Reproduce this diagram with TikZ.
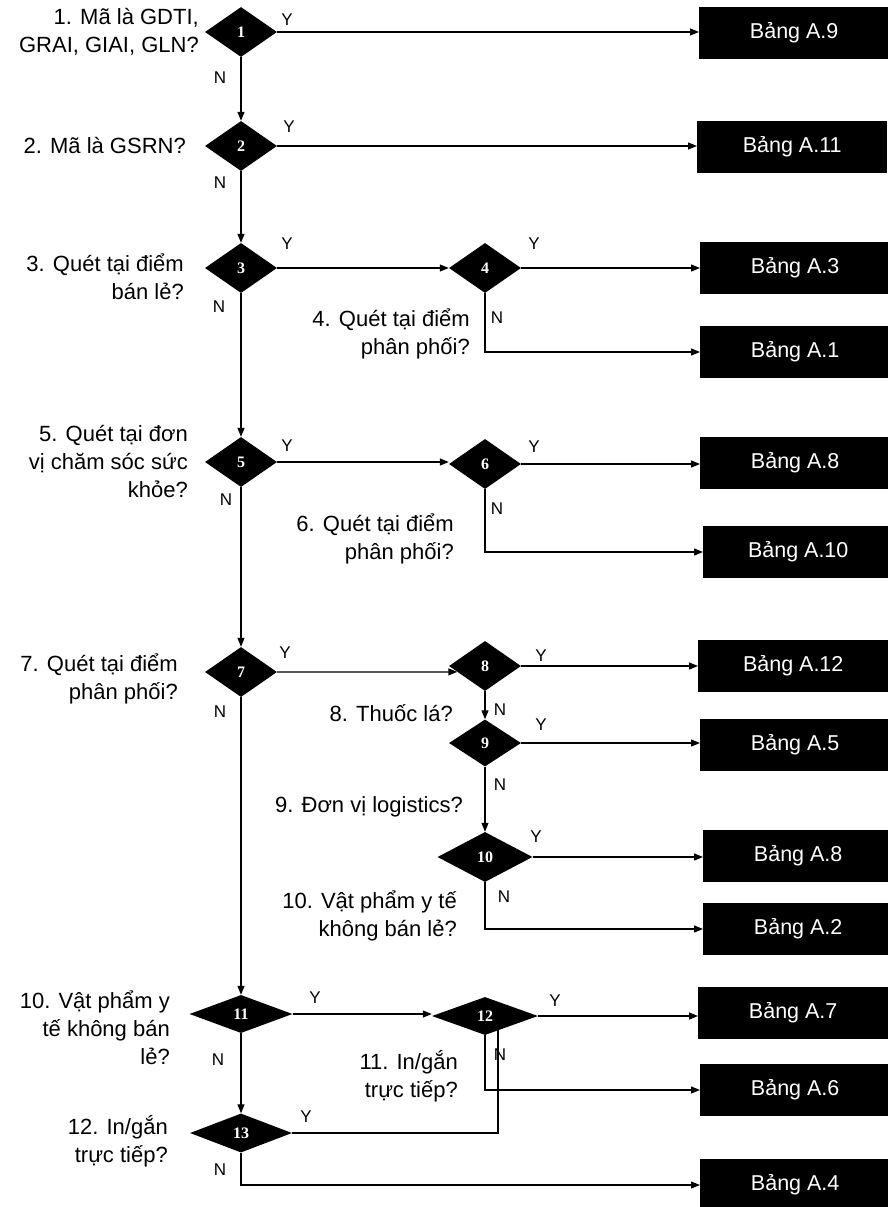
\documentclass[tikz,border=0pt]{standalone}
\usepackage{fontspec}
\setmainfont{Liberation Sans}
\newfontfamily\numfont{Liberation Serif}
\usetikzlibrary{shapes.geometric,arrows.meta}

\begin{document}
\begin{tikzpicture}[x=1pt,y=-1pt,
    dec/.style={diamond,fill=black,inner sep=0pt,minimum width=72pt,minimum height=50pt,
      text=white,font=\numfont\bfseries\fontsize{16}{16}\selectfont},
    tbl/.style={fill=black,text=white,anchor=west,minimum width=190pt,minimum height=52pt,
      inner sep=0pt,font=\fontsize{21.5}{22}\selectfont},
    qlabel/.style={anchor=east,align=right,inner sep=0pt,font=\fontsize{22}{28}\selectfont},
    yn/.style={inner sep=0pt,font=\fontsize{17}{17}\selectfont},
    wire/.style={line width=1.2pt},
    flow/.style={wire,-{Triangle[length=9pt,width=7pt]}}]
    \useasboundingbox (0,0) rectangle (887,1207);

    % Decisions
    \node[dec] (d1) at (241,32) {1};
    \node[dec] (d2) at (241,146) {2};
    \node[dec] (d3) at (241,268) {3};
    \node[dec] (d4) at (485,268) {4};
    \node[dec] (d5) at (241,462) {5};
    \node[dec] (d6) at (485,464) {6};
    \node[dec] (d7) at (241,672) {7};
    \node[dec] (d8) at (485,666) {8};
    \node[dec,minimum height=47pt] (d9) at (485,743) {9};
    \node[dec,minimum width=95pt] (d10) at (485,857) {10};
    \node[dec,minimum width=103pt,minimum height=38pt] (d11) at (241,1014) {11};
    \node[dec,minimum width=106pt,minimum height=38pt] (d12) at (485,1016) {12};
    \node[dec,minimum width=102pt,minimum height=39pt] (d13) at (241,1133) {13};

    % Tables
    \node[tbl] (a9) at (699,33) {Bảng A.9};
    \node[tbl] (a11) at (697,147) {Bảng A.11};
    \node[tbl] (a3) at (700,268) {Bảng A.3};
    \node[tbl] (a1) at (700,352) {Bảng A.1};
    \node[tbl] (a8) at (700,463) {Bảng A.8};
    \node[tbl] (a10) at (703,552) {Bảng A.10};
    \node[tbl] (a12) at (698,666) {Bảng A.12};
    \node[tbl] (a5) at (700,745) {Bảng A.5};
    \node[tbl] (a8b) at (703,856) {Bảng A.8};
    \node[tbl] (a2) at (703,929) {Bảng A.2};
    \node[tbl] (a7) at (698,1013) {Bảng A.7};
    \node[tbl] (a6) at (700,1090) {Bảng A.6};
    \node[tbl] (a4) at (700,1185) {Bảng A.4};

    % Questions
    \node[qlabel] (q1) at (199,32) {1. Mã là GDTI,\\GRAI, GIAI, GLN?};
    \node[qlabel] (q2) at (186,146) {2. Mã là GSRN?};
    \node[qlabel] (q3) at (184,277) {3. Quét tại điểm\\bán lẻ?};
    \node[qlabel] (q4) at (470,334) {4. Quét tại điểm\\phân phối?};
    \node[qlabel] (q5) at (188,462) {5. Quét tại đơn\\vị chăm sóc sức\\khỏe?};
    \node[qlabel] (q6) at (454,539) {6. Quét tại điểm\\phân phối?};
    \node[qlabel] (q7) at (178,679) {7. Quét tại điểm\\phân phối?};
    \node[qlabel] (q8) at (453,713) {8. Thuốc lá?};
    \node[qlabel] (q9) at (463,807) {9. Đơn vị logistics?};
    \node[qlabel] (q10) at (457,916) {10. Vật phẩm y tế\\không bán lẻ?};
    \node[qlabel] (q11) at (170,1028) {10. Vật phẩm y\\tế không bán\\lẻ?};
    \node[qlabel] (q12) at (458,1076) {11. In/gắn\\trực tiếp?};
    \node[qlabel] (q13) at (168,1141) {12. In/gắn\\trực tiếp?};

    % Yes / no marks
    \node[yn] (y1) at (287,20) {Y};
    \node[yn] (n1) at (220,78) {N};
    \node[yn] (y2) at (289,127) {Y};
    \node[yn] (n2) at (220,183) {N};
    \node[yn] (y3) at (287,244) {Y};
    \node[yn] (n3) at (219,307) {N};
    \node[yn] (y4) at (534,244) {Y};
    \node[yn] (n4) at (497,318) {N};
    \node[yn] (y5) at (287,446) {Y};
    \node[yn] (n5) at (226,500) {N};
    \node[yn] (y6) at (534,447) {Y};
    \node[yn] (n6) at (497,509) {N};
    \node[yn] (y7) at (285,653) {Y};
    \node[yn] (n7) at (220,712) {N};
    \node[yn] (y8) at (541,656) {Y};
    \node[yn] (n8) at (500,710) {N};
    \node[yn] (y9) at (541,725) {Y};
    \node[yn] (n9) at (500,785) {N};
    \node[yn] (y10) at (536,837) {Y};
    \node[yn] (n10) at (504,897) {N};
    \node[yn] (y11) at (315,998) {Y};
    \node[yn] (n11) at (218,1060) {N};
    \node[yn] (y12) at (555,1001) {Y};
    \node[yn] (n12) at (500,1055) {N};
    \node[yn] (y13) at (306,1117) {Y};
    \node[yn] (n13) at (220,1170) {N};

    % Main column
    \draw[flow] (d1.south) -- (d2.north);
    \draw[flow] (d2.south) -- (d3.north);
    \draw[flow] (d3.south) -- (d5.north);
    \draw[flow] (d5.south) -- (d7.north);
    \draw[flow] (d7.south) -- (d11.north);
    \draw[flow] (d11.south) -- (d13.north);

    % Second column
    \draw[flow] (d3.east) -- (d4.west);
    \draw[flow] (d5.east) -- (d5.east -| d6.west);
    \draw[flow] (d7.east) -- (d8.192);
    \draw[flow] (d8.south) -- (d9.north);
    \draw[flow] (d9.south) -- (d10.north);
    \draw[flow] (d11.east) -- (d11.east -| d12.west);

    % To the tables
    \draw[flow] (d1.east) -- (d1.east -| a9.west);
    \draw[flow] (d2.east) -- (d2.east -| a11.west);
    \draw[flow] (d4.east) -- (d4.east -| a3.west);
    \draw[flow] (d4.south) |- (a1.west);
    \draw[flow] (d6.east) -- (d6.east -| a8.west);
    \draw[flow] (d6.south) |- (a10.west);
    \draw[flow] (d8.east) -- (d8.east -| a12.west);
    \draw[flow] (d9.east) -- (d9.east -| a5.west);
    \draw[flow] (d10.east) -- (d10.east -| a8b.west);
    \draw[flow] (d10.south) |- (a2.west);
    \draw[flow] (d12.east) -- (d12.east -| a7.west);
    \draw[flow] (d12.south) |- (a6.west);
    \draw[flow] (d13.south) |- (a4.west);

    % 13 yes joins 12
    \coordinate (j12) at (498,1030);
    \draw[wire] (d13.east) -| (j12);
\end{tikzpicture}
\end{document}
